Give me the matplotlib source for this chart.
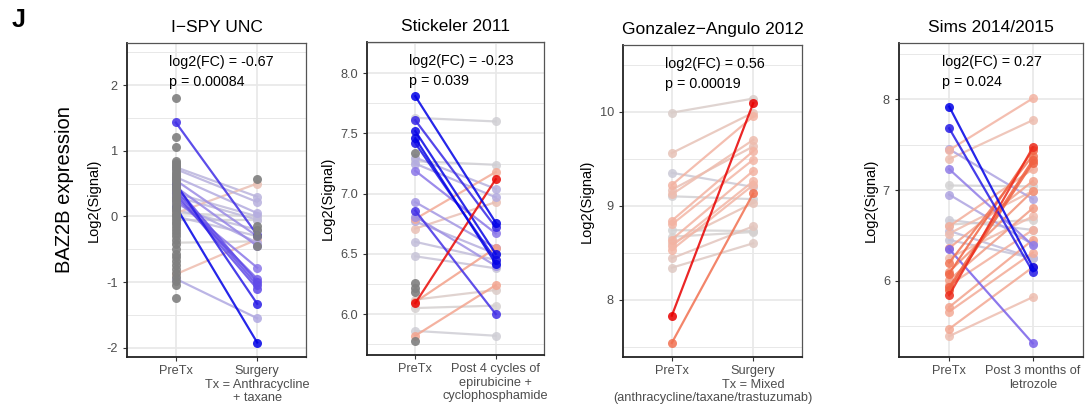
import numpy as np
import matplotlib.pyplot as plt
from matplotlib.colors import LinearSegmentedColormap

plt.rcParams['font.family'] = ['Liberation Sans', 'DejaVu Sans']

# ---- data: paired samples (pre, post) for each study ----
ispy_pre = [0.15, 1.43, 0.50, 0.45, 0.40, 0.35, 0.30, 0.25, 0.55, 0.72, 0.75, 0.60,
            0.35, 0.30, 0.05, -0.05, 0.00, -0.40, -0.95, -0.88, 0.05, 0.20, 0.10, 0.45]
ispy_post = [-1.92, -0.28, -1.33, -1.00, -1.05, -1.10, -0.95, -0.78, -0.30, 0.22, 0.30, 0.05,
             0.00, -0.05, 0.00, -0.05, -0.30, -0.38, -1.55, -0.35, 0.50, -0.40, -0.20, -0.45]
# unpaired samples (grey dots)
ispy_pre_only = [1.81, 1.21, 1.06, 0.84, 0.81, 0.78, 0.75, 0.72, 0.68, 0.65, 0.62, 0.58,
                 0.55, 0.52, 0.48, 0.45, 0.41, 0.38, 0.34, 0.30, 0.27, 0.23, 0.19, 0.15,
                 0.11, 0.08, 0.04, 0.00, -0.04, -0.08, -0.12, -0.16, -0.20, -0.25, -0.30,
                 -0.36, -0.42, -0.50, -0.57, -0.62, -0.68, -0.74, -0.80, -0.86, -0.92,
                 -0.98, -1.04, -1.24]
ispy_post_only = [0.57, -0.15, -0.20, -0.30, -0.45]

stick_pre = [7.81, 7.52, 7.46, 7.42, 7.63, 7.61, 7.27, 7.19, 6.93, 6.86, 6.81, 6.79,
             6.77, 6.71, 6.60, 6.48, 6.09, 6.10, 6.12, 6.05, 5.82, 5.86, 7.30, 7.25]
stick_post = [6.76, 6.50, 6.42, 6.45, 7.60, 6.72, 7.24, 6.67, 6.55, 6.00, 6.40, 7.18,
              6.50, 6.93, 6.45, 6.38, 7.12, 6.55, 6.20, 6.07, 6.24, 5.82, 7.04, 6.97]
stick_pre_only = [7.34, 6.26, 6.22, 6.18, 5.78]
stick_post_only = []

gonz_pre = [9.99, 7.83, 7.54, 9.56, 9.35, 9.22, 9.17, 9.12, 9.10, 8.84, 8.80, 8.74,
            8.67, 8.64, 8.57, 8.53, 8.44, 8.34, 8.60]
gonz_post = [10.14, 10.09, 9.13, 9.99, 9.20, 9.95, 9.63, 9.70, 9.07, 9.58, 9.49, 8.73,
             8.72, 9.37, 9.26, 9.22, 8.78, 8.60, 9.03]

sims_pre = [7.92, 7.68, 7.45, 7.23, 6.95, 6.35, 7.44, 7.34, 7.05, 6.67, 6.60, 6.52,
            6.45, 6.36, 6.25, 6.20, 6.08, 6.01, 5.93, 5.90, 5.84, 5.71, 5.66, 5.47,
            5.39, 6.55, 6.62, 6.10, 5.95]
sims_post = [6.15, 6.10, 6.90, 6.39, 6.40, 5.31, 8.01, 7.77, 7.04, 6.56, 7.23, 6.99,
             6.25, 7.10, 6.71, 7.38, 7.44, 6.80, 7.33, 7.30, 7.47, 6.45, 6.31, 6.15,
             5.82, 6.25, 6.67, 6.99, 6.56]

titles = ['I\u2212SPY UNC', 'Stickeler 2011', 'Gonzalez\u2212Angulo 2012', 'Sims 2014/2015']
post_labels = ['Surgery\nTx = Anthracycline\n+ taxane',
               'Post 4 cycles of\nepirubicine +\ncyclophosphamide',
               'Surgery\nTx = Mixed',
               'Post 3 months of\nletrozole']
gonz_extra = '(anthracycline/taxane/trastuzumab)'
fc_text = ['log2(FC) = -0.67\np = 0.00084', 'log2(FC) = -0.23\np = 0.039',
           'log2(FC) = 0.56\np = 0.00019', 'log2(FC) = 0.27\np = 0.024']

panels = [
    dict(pre=ispy_pre, post=ispy_post, pre_only=ispy_pre_only, post_only=ispy_post_only,
         ylim=(-2.14, 2.64), major=1.0, minor=0.5, fmt='{:.0f}'),
    dict(pre=stick_pre, post=stick_post, pre_only=stick_pre_only, post_only=stick_post_only,
         ylim=(5.66, 8.26), major=0.5, minor=0.25, fmt='{:.1f}'),
    dict(pre=gonz_pre, post=gonz_post, pre_only=[], post_only=[],
         ylim=(7.39, 10.71), major=1.0, minor=0.5, fmt='{:.0f}'),
    dict(pre=sims_pre, post=sims_post, pre_only=[], post_only=[],
         ylim=(5.16, 8.62), major=1.0, minor=0.5, fmt='{:.0f}'),
]

# axes boxes in pixels: left, right, top, bottom
boxes = [(127, 306, 43, 357), (367, 544, 42, 355), (623, 802, 45, 357), (899, 1083, 43, 357)]

cmap = LinearSegmentedColormap.from_list('chg', [
    (0.0, '#0000E6'), (0.1, '#4A35E6'), (0.22, '#8068EA'), (0.36, '#B3ABE0'),
    (0.5, '#D3D3D3'), (0.65, '#F3B8A8'), (0.8, '#F28262'), (0.92, '#F05A3A'),
    (1.0, '#E80000')])

W, H = 1085, 415
fig = plt.figure(figsize=(W / 100, H / 100), dpi=100)

for i, p in enumerate(panels):
    l, r, t, b = boxes[i]
    ax = fig.add_axes([l / W, 1 - b / H, (r - l) / W, (b - t) / H])
    lo, hi = p['ylim']

    # grid
    for v in np.arange(np.ceil(lo / p['minor']) * p['minor'], hi, p['minor']):
        is_major = abs(v / p['major'] - round(v / p['major'])) < 1e-6
        ax.axhline(v, color='#E8E8E8', lw=1.2 if is_major else 0.7, zorder=0)
    for xv in (1, 2):
        ax.axvline(xv, color='#E8E8E8', lw=1.2, zorder=0)

    pre = np.array(p['pre'])
    post = np.array(p['post'])
    d = post - pre
    scale = np.abs(d).max()
    order = np.argsort(np.abs(d))

    for k in order:
        c = cmap(0.5 + 0.5 * d[k] / scale)
        ax.plot([1, 2], [pre[k], post[k]], color=c, lw=1.6, alpha=0.85,
                marker='o', ms=6.5, mec='none', zorder=3)
    ax.scatter([1] * len(p['pre_only']), p['pre_only'], s=42, color='#7F7F7F',
               alpha=0.9, lw=0, zorder=4)
    ax.scatter([2] * len(p['post_only']), p['post_only'], s=42, color='#7F7F7F',
               alpha=0.9, lw=0, zorder=4)

    ax.set_xlim(0.4, 2.6)
    ax.set_ylim(lo, hi)
    ticks = np.arange(np.ceil(lo / p['major']) * p['major'], hi, p['major'])
    ax.set_yticks(ticks)
    ax.set_yticklabels([p['fmt'].format(v) for v in ticks])
    ax.set_xticks([1, 2])
    ax.set_xticklabels(['PreTx', post_labels[i]], fontsize=9.2, color='#4D4D4D',
                       linespacing=1.15)
    ax.tick_params(axis='y', labelsize=9.2, labelcolor='#4D4D4D', length=3, color='#333333')
    ax.tick_params(axis='x', length=3, color='#333333', pad=3)

    for side in ('left', 'bottom'):
        ax.spines[side].set_color('#222222')
        ax.spines[side].set_linewidth(1.3)
    for side in ('top', 'right'):
        ax.spines[side].set_color('#555555')
        ax.spines[side].set_linewidth(0.9)

    ax.set_ylabel('Log2(Signal)', fontsize=10.5, labelpad=4)
    ax.set_title(titles[i], fontsize=12.5, pad=8)
    ax.text(0.92, hi - (hi - lo) * 0.038, fc_text[i], fontsize=10.3, va='top',
            ha='left', linespacing=1.55)

fig.text(613 / W, 1 - 398 / H, gonz_extra, fontsize=9.2, color='#4D4D4D',
         ha='left', va='center')
fig.text(65 / W, 1 - 190 / H, 'BAZ2B expression', rotation=90, fontsize=14.5,
         ha='center', va='center')
fig.text(12 / W, 1 - 20 / H, 'J', fontsize=18, fontweight='bold', ha='left', va='center')

plt.savefig('out.png', dpi=100)
plt.close()
